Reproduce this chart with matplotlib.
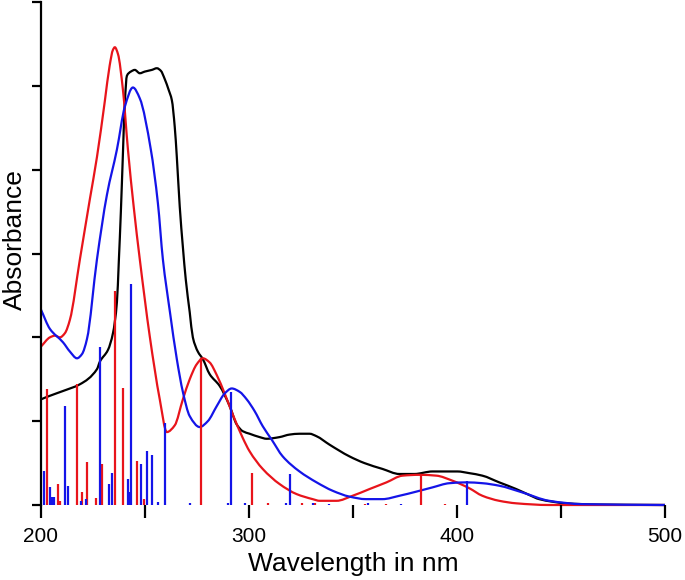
import numpy as np
import matplotlib
matplotlib.use("Agg")
from matplotlib import pyplot as plt
from matplotlib.path import Path
from matplotlib.patches import PathPatch

plt.rcParams['font.family'] = ['Liberation Sans', 'DejaVu Sans']

# experimental spectrum (black)
exp_nm = [200, 202.9, 210.6, 218.7, 226.9, 228.3, 232.2, 234.6, 236.5, 237.4, 238.4, 239.4,
          240.3, 241.3, 243.2, 245.1, 247.5, 249.9, 253.3, 255.7, 257.6, 259.5, 261.4,
          262.9, 264.3, 265.3, 266.7, 268.2, 269.6, 271.5, 273.0, 275.4, 277.8, 281.1,
          285.9, 290.7, 294.1, 297.0, 300.3, 305.1, 308.5, 314.7, 319.5, 324.3, 329.1,
          332.5, 338.7, 348.3, 355.5, 364.2, 372.3, 379.5, 388.2, 400.2, 405.9, 412.2,
          420.3, 428.5, 434.7, 439.5, 452.5, 468.3, 500]
exp_abs = [1.26, 1.29, 1.36, 1.44, 1.62, 1.71, 1.85, 2.05, 2.42, 2.9, 3.5, 4.2,
           4.8, 5.12, 5.17, 5.19, 5.15, 5.17, 5.19, 5.21, 5.18, 5.08, 4.95,
           4.83, 4.51, 4.15, 3.56, 3.08, 2.69, 2.3, 2.0, 1.83, 1.74, 1.56,
           1.42, 1.18, 0.96, 0.88, 0.85, 0.81, 0.79, 0.81, 0.84, 0.85, 0.85,
           0.82, 0.72, 0.58, 0.50, 0.43, 0.37, 0.37, 0.40, 0.40, 0.38, 0.35,
           0.27, 0.19, 0.12, 0.07, 0.02, 0.005, 0.0]

# calculated spectrum 1 (red)
red_nm = [200, 204.3, 206.7, 209.1, 211.5, 213.9, 218.7, 223.5, 226.9, 230.7, 233.0, 234.6,
          235.5, 237.0, 239.4, 241.8, 244.6, 247.5, 252.3, 257.1, 260.5, 264.3, 268.2,
          271.5, 274.9, 277.8, 281.1, 284.5, 288.3, 292.2, 297.0, 300.3, 306.6, 314.7,
          322.9, 330.6, 334.0, 342.1, 349.8, 357.9, 366.1, 373.8, 381.9, 390.1, 397.8,
          405.9, 412.2, 420.3, 428.5, 444.3, 500]
red_abs = [1.89, 2.0, 2.02, 2.0, 2.05, 2.21, 2.93, 3.65, 4.15, 4.82, 5.24, 5.43,
           5.46, 5.38, 4.95, 4.24, 3.55, 2.93, 2.01, 1.26, 0.87, 0.95, 1.26,
           1.5, 1.68, 1.75, 1.70, 1.55, 1.33, 1.08, 0.80, 0.64, 0.43, 0.25,
           0.13, 0.07, 0.05, 0.05, 0.11, 0.19, 0.27, 0.35, 0.36, 0.35, 0.29,
           0.2, 0.11, 0.05, 0.02, 0.0, 0.0]

# calculated spectrum 2 (blue)
blue_nm = [200, 204.3, 210.6, 213.9, 217.3, 219.7, 222.1, 226.9, 231.7, 236.5, 240.3, 244.2,
           247.5, 252.8, 256.2, 258.6, 262.0, 265.3, 268.2, 271.5, 276.3, 280.2, 284.5,
           288.3, 291.7, 295.5, 298.9, 302.7, 306.6, 310.9, 316.2, 324.3, 332.5, 340.2,
           348.3, 356.2, 364.2, 372.3, 380.5, 388.2, 396.3, 404.5, 412.2, 420.3, 431.4,
           444.3, 460.2, 500]
blue_abs = [2.33, 2.1, 1.94, 1.83, 1.75, 1.8, 1.98, 2.93, 3.7, 4.24, 4.75, 4.98,
            4.85, 4.24, 3.6, 2.93, 2.3, 1.74, 1.35, 1.06, 0.93, 1.0, 1.18,
            1.33, 1.39, 1.35, 1.26, 1.12, 0.94, 0.78, 0.58, 0.40, 0.27, 0.17,
            0.1, 0.07, 0.07, 0.11, 0.16, 0.21, 0.26, 0.27, 0.26, 0.23, 0.15,
            0.05, 0.01, 0.0]

# transitions (sticks)
red_stick_nm = [203.0, 208.2, 209.1, 217.4, 219.8, 222.2, 226.5, 229.5, 235.5, 239.2,
                246.2, 249.4, 277.1, 301.4, 382.7, 309, 325.3, 331.5, 356, 366, 394]
red_stick_f = [1.38, 0.25, 0.05, 1.44, 0.15, 0.51, 0.08, 0.49, 2.55, 1.40,
               0.52, 0.07, 1.75, 0.38, 0.37, 0.02, 0.02, 0.02, 0.01, 0.01, 0.01]

blue_stick_nm = [201.4, 204.5, 205.3, 206.2, 211.4, 213.0, 219.1, 221.6, 228.6, 232.6,
                 233.9, 241.9, 242.7, 243.5, 248.0, 250.9, 253.4, 256.3, 259.7, 291.2,
                 319.5, 404.6, 271.5, 290, 298, 318, 331, 338.7, 357.4, 373]
blue_stick_f = [0.40, 0.21, 0.1, 0.10, 1.18, 0.23, 0.05, 0.07, 1.89, 0.25,
                0.38, 0.31, 0.15, 2.64, 0.49, 0.64, 0.60, 0.03, 0.98, 1.35,
                0.37, 0.29, 0.02, 0.02, 0.02, 0.02, 0.02, 0.01, 0.02, 0.01]

RED = "#e8141b"
BLUE = "#1414e8"


def smooth_curve(x, y):
    # bezier path through the read points, monotone (pchip-style) tangents
    x = np.asarray(x, float)
    y = np.asarray(y, float)
    h = np.diff(x)
    d = np.diff(y) / h
    m = np.zeros_like(y)
    m[0], m[-1] = d[0], d[-1]
    for k in range(1, len(x) - 1):
        if d[k - 1] * d[k] <= 0:
            m[k] = 0
        else:
            w1 = 2 * h[k] + h[k - 1]
            w2 = h[k] + 2 * h[k - 1]
            m[k] = (w1 + w2) / (w1 / d[k - 1] + w2 / d[k])
    verts = [(x[0], y[0])]
    codes = [Path.MOVETO]
    for k in range(len(x) - 1):
        verts += [(x[k] + h[k] / 3, y[k] + m[k] * h[k] / 3),
                  (x[k + 1] - h[k] / 3, y[k + 1] - m[k + 1] * h[k] / 3),
                  (x[k + 1], y[k + 1])]
        codes += [Path.CURVE4] * 3
    return Path(verts, codes)


fig = plt.figure(figsize=(6.85, 5.8), dpi=100)
ax = fig.add_axes([41/685, 75/580, 624/685, 503/580])

ax.vlines(red_stick_nm, 0, red_stick_f, color=RED, lw=1.6)
ax.vlines(blue_stick_nm, 0, blue_stick_f, color=BLUE, lw=1.6)

for xs, ys, c in [(exp_nm, exp_abs, "black"), (red_nm, red_abs, RED), (blue_nm, blue_abs, BLUE)]:
    ax.add_patch(PathPatch(smooth_curve(xs, ys), fill=False, edgecolor=c, lw=1.6,
                           clip_on=False))

ax.set_xlim(200, 500)
ax.set_ylim(0, 6)
ax.set_xticks([200, 250, 300, 350, 400, 450, 500])
ax.set_xticklabels(["200", "", "300", "", "400", "", "500"])
ax.set_yticks([0, 1, 2, 3, 4, 5, 6])
ax.set_yticklabels([])

for s in ["top", "right", "bottom"]:
    ax.spines[s].set_visible(False)
ax.spines["left"].set_linewidth(1.6)
ax.tick_params(axis="x", direction="out", length=9, width=1.6, pad=7, labelsize=15)
ax.tick_params(axis="y", direction="out", length=6.5, width=1.6)

ax.set_xlabel("Wavelength in nm", fontsize=19)
ax.xaxis.set_label_coords(0.5, -0.094)
ax.set_ylabel("Absorbance", fontsize=19)
ax.yaxis.set_label_coords(-0.022, 0.527)

plt.savefig("out.png", dpi=100)
